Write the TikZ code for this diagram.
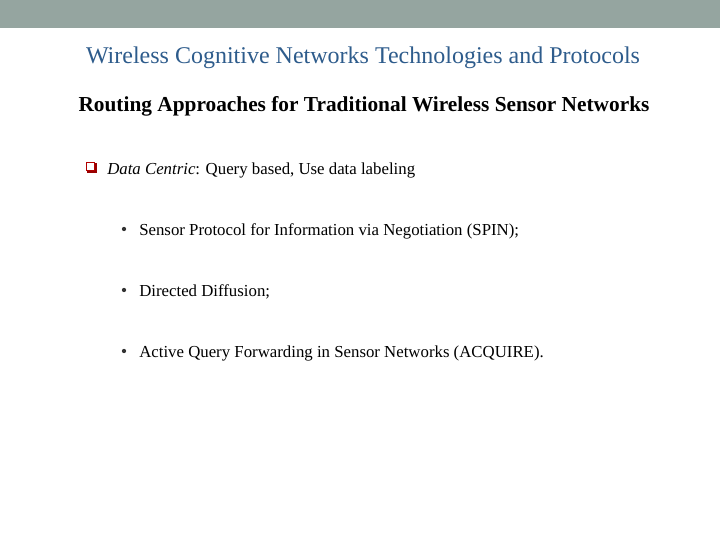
\documentclass[tikz,border=0pt]{standalone}
\usepackage{fontspec}
\setmainfont{Liberation Serif}
\begin{document}
\begin{tikzpicture}[x=0.75pt,y=-0.75pt,
  every node/.style={inner sep=0pt,anchor=west},
  item/.style={font=\fontsize{12.6}{15}\selectfont},
  dot/.style={circle,fill=black!80,minimum size=3.2pt,anchor=center}]
\useasboundingbox (0,0) rectangle (720,540);
\fill[white] (0,0) rectangle (720,540);
\fill[color={rgb,255:red,149;green,165;blue,160}] (0,0) rectangle (720,28);
\node[anchor=center,text={rgb,255:red,46;green,92;blue,140},font=\fontsize{18}{22}\selectfont] (title) at (363,58) {Wireless Cognitive Networks Technologies and Protocols};
\node[anchor=center,font=\bfseries\fontsize{16}{19}\selectfont] (head) at (364,106) {Routing Approaches for Traditional Wireless Sensor Networks};
\fill[red!60!black] (86.5,162.5) rectangle (96.5,172.5);
\fill[white] (86.5,162.5) rectangle (94.5,170.5);
\draw[red!70!black,line width=0.6pt] (86.5,162.5) rectangle (94.5,170.5);
\node[item] (dc) at (107,170) {\textit{Data Centric}: Query based, Use data labeling};
\node[dot] (b1) at (124,229) {};
\node[item] (t1) at (139,231) {Sensor Protocol for Information via Negotiation (SPIN);};
\node[dot] (b2) at (124,290) {};
\node[item] (t2) at (139,292) {Directed Diffusion;};
\node[dot] (b3) at (124,351) {};
\node[item] (t3) at (139,353) {Active Query Forwarding in Sensor Networks (ACQUIRE).};
\end{tikzpicture}
\end{document}
